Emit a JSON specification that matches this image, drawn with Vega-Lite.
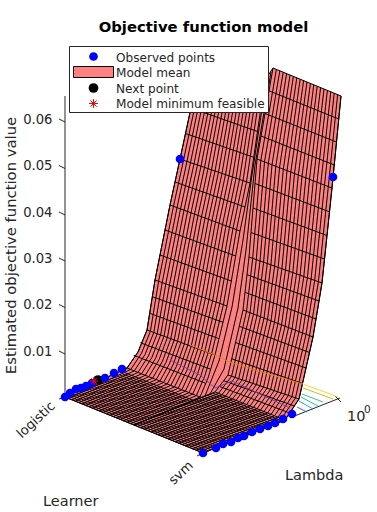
{"$schema":"https://vega.github.io/schema/vega-lite/v6.json","width":377,"height":512,"padding":0,"autosize":{"type":"none"},"background":"white","title":{"text":"Objective function model","frame":"group","anchor":"middle","dx":15,"offset":-35,"font":"DejaVu Sans","fontSize":14.8,"fontWeight":"bold","color":"black"},"config":{"view":{"stroke":null},"text":{"font":"DejaVu Sans"}},
"datasets":{"surface":[{"x":65,"y":397},{"x":127,"y":368},{"x":138,"y":352},{"x":147,"y":330},{"x":155,"y":280},{"x":170,"y":205},{"x":180,"y":159},{"x":202,"y":57},{"x":265,"y":80},{"x":273,"y":68},{"x":341,"y":96},{"x":332,"y":188},{"x":322,"y":283},{"x":313,"y":337},{"x":299,"y":399},{"x":285,"y":420},{"x":203,"y":453},{"x":65,"y":397}],
"mesh":[
{"g":0,"x":65,"y":397},{"g":0,"x":127,"y":368},{"g":0,"x":138,"y":352},{"g":0,"x":147,"y":330},{"g":0,"x":155,"y":280},{"g":0,"x":170,"y":205},{"g":0,"x":180,"y":159},{"g":0,"x":202,"y":57},
{"g":1,"x":68.5,"y":398.4},{"g":1,"x":130.7,"y":369.5},{"g":1,"x":141.5,"y":353.3},{"g":1,"x":150.4,"y":331.3},{"g":1,"x":158.6,"y":281.3},{"g":1,"x":173.5,"y":206.3},{"g":1,"x":183.5,"y":160.2},{"g":1,"x":205.2,"y":58.2},
{"g":2,"x":71.9,"y":399.8},{"g":2,"x":134.3,"y":370.9},{"g":2,"x":145,"y":354.6},{"g":2,"x":153.8,"y":332.5},{"g":2,"x":162.2,"y":282.6},{"g":2,"x":177,"y":207.6},{"g":2,"x":187,"y":161.4},{"g":2,"x":208.3,"y":59.3},
{"g":3,"x":75.4,"y":401.2},{"g":3,"x":138,"y":372.4},{"g":3,"x":148.5,"y":355.9},{"g":3,"x":157.2,"y":333.8},{"g":3,"x":165.8,"y":283.9},{"g":3,"x":180.5,"y":208.9},{"g":3,"x":190.5,"y":162.6},{"g":3,"x":211.5,"y":60.5},
{"g":4,"x":78.8,"y":402.6},{"g":4,"x":141.6,"y":373.8},{"g":4,"x":152,"y":357.2},{"g":4,"x":160.6,"y":335},{"g":4,"x":169.4,"y":285.2},{"g":4,"x":184,"y":210.2},{"g":4,"x":194,"y":163.8},{"g":4,"x":214.6,"y":61.6},
{"g":5,"x":82.3,"y":404},{"g":5,"x":145.3,"y":375.3},{"g":5,"x":155.5,"y":358.5},{"g":5,"x":164,"y":336.3},{"g":5,"x":173,"y":286.5},{"g":5,"x":187.5,"y":211.5},{"g":5,"x":197.5,"y":165},{"g":5,"x":217.8,"y":62.8},
{"g":6,"x":85.7,"y":405.4},{"g":6,"x":148.9,"y":376.7},{"g":6,"x":159,"y":359.8},{"g":6,"x":167.4,"y":337.5},{"g":6,"x":176.6,"y":287.8},{"g":6,"x":191,"y":212.8},{"g":6,"x":201,"y":166.2},{"g":6,"x":220.9,"y":63.9},
{"g":7,"x":89.2,"y":406.8},{"g":7,"x":152.6,"y":378.2},{"g":7,"x":162.5,"y":361.1},{"g":7,"x":170.8,"y":338.8},{"g":7,"x":180.2,"y":289.1},{"g":7,"x":194.5,"y":214.1},{"g":7,"x":204.5,"y":167.4},{"g":7,"x":224.1,"y":65.1},
{"g":8,"x":92.6,"y":408.2},{"g":8,"x":156.2,"y":379.6},{"g":8,"x":166,"y":362.4},{"g":8,"x":174.2,"y":340},{"g":8,"x":183.8,"y":290.4},{"g":8,"x":198,"y":215.4},{"g":8,"x":208,"y":168.6},{"g":8,"x":227.2,"y":66.2},
{"g":9,"x":96.1,"y":409.6},{"g":9,"x":159.9,"y":381.1},{"g":9,"x":169.5,"y":363.7},{"g":9,"x":177.6,"y":341.3},{"g":9,"x":187.4,"y":291.7},{"g":9,"x":201.5,"y":216.7},{"g":9,"x":211.5,"y":169.8},{"g":9,"x":230.4,"y":67.4},
{"g":10,"x":99.5,"y":411},{"g":10,"x":163.5,"y":382.5},{"g":10,"x":173,"y":365},{"g":10,"x":181,"y":342.5},{"g":10,"x":191,"y":293},{"g":10,"x":205,"y":218},{"g":10,"x":215,"y":171},{"g":10,"x":233.5,"y":68.5},
{"g":11,"x":103,"y":412.4},{"g":11,"x":167.2,"y":384},{"g":11,"x":176.5,"y":366.3},{"g":11,"x":184.4,"y":343.8},{"g":11,"x":194.6,"y":294.3},{"g":11,"x":208.5,"y":219.3},{"g":11,"x":218.5,"y":172.2},{"g":11,"x":236.7,"y":69.7},
{"g":12,"x":106.4,"y":413.8},{"g":12,"x":170.8,"y":385.4},{"g":12,"x":180,"y":367.6},{"g":12,"x":187.8,"y":345},{"g":12,"x":198.2,"y":295.6},{"g":12,"x":212,"y":220.6},{"g":12,"x":222,"y":173.4},{"g":12,"x":239.8,"y":70.8},
{"g":13,"x":109.9,"y":415.2},{"g":13,"x":174.5,"y":386.9},{"g":13,"x":183.5,"y":368.9},{"g":13,"x":191.2,"y":346.3},{"g":13,"x":201.8,"y":296.9},{"g":13,"x":215.5,"y":221.9},{"g":13,"x":225.5,"y":174.6},{"g":13,"x":243,"y":72},
{"g":14,"x":113.3,"y":416.6},{"g":14,"x":178.1,"y":388.3},{"g":14,"x":187,"y":370.2},{"g":14,"x":194.6,"y":347.5},{"g":14,"x":205.4,"y":298.2},{"g":14,"x":219,"y":223.2},{"g":14,"x":229,"y":175.8},{"g":14,"x":246.1,"y":73.1},
{"g":15,"x":116.8,"y":418},{"g":15,"x":181.8,"y":389.8},{"g":15,"x":190.5,"y":371.5},{"g":15,"x":198,"y":348.8},{"g":15,"x":209,"y":299.5},{"g":15,"x":222.5,"y":224.5},{"g":15,"x":232.5,"y":177},{"g":15,"x":249.3,"y":74.3},
{"g":16,"x":120.2,"y":419.4},{"g":16,"x":185.4,"y":391.2},{"g":16,"x":194,"y":372.8},{"g":16,"x":201.4,"y":350},{"g":16,"x":212.6,"y":300.8},{"g":16,"x":226,"y":225.8},{"g":16,"x":236,"y":178.2},{"g":16,"x":252.4,"y":75.4},
{"g":17,"x":123.7,"y":420.8},{"g":17,"x":189.1,"y":392.7},{"g":17,"x":197.5,"y":374.1},{"g":17,"x":204.8,"y":351.3},{"g":17,"x":216.2,"y":302.1},{"g":17,"x":229.5,"y":227.1},{"g":17,"x":239.5,"y":179.4},{"g":17,"x":255.6,"y":76.6},
{"g":18,"x":127.1,"y":422.2},{"g":18,"x":192.7,"y":394.1},{"g":18,"x":201,"y":375.4},{"g":18,"x":208.2,"y":352.5},{"g":18,"x":219.8,"y":303.4},{"g":18,"x":233,"y":228.4},{"g":18,"x":243,"y":180.6},{"g":18,"x":258.7,"y":77.7},
{"g":19,"x":130.6,"y":423.6},{"g":19,"x":196.4,"y":395.6},{"g":19,"x":204.5,"y":376.7},{"g":19,"x":211.6,"y":353.8},{"g":19,"x":223.4,"y":304.7},{"g":19,"x":236.5,"y":229.7},{"g":19,"x":246.5,"y":181.8},{"g":19,"x":261.9,"y":78.9},
{"g":20,"x":134,"y":425},{"g":20,"x":200,"y":397},{"g":20,"x":208,"y":378},{"g":20,"x":215,"y":355},{"g":20,"x":227,"y":306},{"g":20,"x":240,"y":231},{"g":20,"x":250,"y":183},{"g":20,"x":265,"y":80},
{"g":21,"x":134,"y":425},{"g":21,"x":205,"y":396},{"g":21,"x":219,"y":361},{"g":21,"x":232,"y":307},{"g":21,"x":243,"y":240},{"g":21,"x":252,"y":175},{"g":21,"x":267,"y":76},
{"g":22,"x":134,"y":425},{"g":22,"x":210,"y":394},{"g":22,"x":224,"y":369},{"g":22,"x":238,"y":308},{"g":22,"x":246,"y":250},{"g":22,"x":255,"y":165},{"g":22,"x":271,"y":72},
{"g":30,"x":134,"y":425},{"g":30,"x":215,"y":392},{"g":30,"x":228,"y":375},{"g":30,"x":243,"y":310},{"g":30,"x":249,"y":257},{"g":30,"x":257,"y":159},{"g":30,"x":273,"y":68},
{"g":31,"x":137.5,"y":426.4},{"g":31,"x":218.5,"y":393.4},{"g":31,"x":231.6,"y":376.2},{"g":31,"x":246.5,"y":311.4},{"g":31,"x":252.7,"y":258.3},{"g":31,"x":260.8,"y":160.5},{"g":31,"x":276.4,"y":69.4},
{"g":32,"x":140.9,"y":427.8},{"g":32,"x":222,"y":394.8},{"g":32,"x":235.1,"y":377.4},{"g":32,"x":250,"y":312.7},{"g":32,"x":256.3,"y":259.6},{"g":32,"x":264.5,"y":161.9},{"g":32,"x":279.8,"y":70.8},
{"g":33,"x":144.4,"y":429.2},{"g":33,"x":225.5,"y":396.2},{"g":33,"x":238.7,"y":378.6},{"g":33,"x":253.5,"y":314.1},{"g":33,"x":260,"y":260.9},{"g":33,"x":268.3,"y":163.4},{"g":33,"x":283.2,"y":72.2},
{"g":34,"x":147.8,"y":430.6},{"g":34,"x":229,"y":397.6},{"g":34,"x":242.2,"y":379.8},{"g":34,"x":257,"y":315.4},{"g":34,"x":263.6,"y":262.2},{"g":34,"x":272,"y":164.8},{"g":34,"x":286.6,"y":73.6},
{"g":35,"x":151.3,"y":432},{"g":35,"x":232.5,"y":399},{"g":35,"x":245.8,"y":381},{"g":35,"x":260.5,"y":316.8},{"g":35,"x":267.3,"y":263.5},{"g":35,"x":275.8,"y":166.3},{"g":35,"x":290,"y":75},
{"g":36,"x":154.7,"y":433.4},{"g":36,"x":236,"y":400.4},{"g":36,"x":249.3,"y":382.2},{"g":36,"x":264,"y":318.1},{"g":36,"x":270.9,"y":264.8},{"g":36,"x":279.5,"y":167.7},{"g":36,"x":293.4,"y":76.4},
{"g":37,"x":158.2,"y":434.8},{"g":37,"x":239.5,"y":401.8},{"g":37,"x":252.9,"y":383.4},{"g":37,"x":267.5,"y":319.5},{"g":37,"x":274.6,"y":266.1},{"g":37,"x":283.3,"y":169.2},{"g":37,"x":296.8,"y":77.8},
{"g":38,"x":161.6,"y":436.2},{"g":38,"x":243,"y":403.2},{"g":38,"x":256.4,"y":384.6},{"g":38,"x":271,"y":320.8},{"g":38,"x":278.2,"y":267.4},{"g":38,"x":287,"y":170.6},{"g":38,"x":300.2,"y":79.2},
{"g":39,"x":165.1,"y":437.6},{"g":39,"x":246.5,"y":404.6},{"g":39,"x":260,"y":385.8},{"g":39,"x":274.5,"y":322.2},{"g":39,"x":281.9,"y":268.7},{"g":39,"x":290.8,"y":172.1},{"g":39,"x":303.6,"y":80.6},
{"g":40,"x":168.5,"y":439},{"g":40,"x":250,"y":406},{"g":40,"x":263.5,"y":387},{"g":40,"x":278,"y":323.5},{"g":40,"x":285.5,"y":270},{"g":40,"x":294.5,"y":173.5},{"g":40,"x":307,"y":82},
{"g":41,"x":172,"y":440.4},{"g":41,"x":253.5,"y":407.4},{"g":41,"x":267.1,"y":388.2},{"g":41,"x":281.5,"y":324.9},{"g":41,"x":289.2,"y":271.3},{"g":41,"x":298.3,"y":175},{"g":41,"x":310.4,"y":83.4},
{"g":42,"x":175.4,"y":441.8},{"g":42,"x":257,"y":408.8},{"g":42,"x":270.6,"y":389.4},{"g":42,"x":285,"y":326.2},{"g":42,"x":292.8,"y":272.6},{"g":42,"x":302,"y":176.4},{"g":42,"x":313.8,"y":84.8},
{"g":43,"x":178.9,"y":443.2},{"g":43,"x":260.5,"y":410.2},{"g":43,"x":274.2,"y":390.6},{"g":43,"x":288.5,"y":327.6},{"g":43,"x":296.5,"y":273.9},{"g":43,"x":305.8,"y":177.9},{"g":43,"x":317.2,"y":86.2},
{"g":44,"x":182.3,"y":444.6},{"g":44,"x":264,"y":411.6},{"g":44,"x":277.7,"y":391.8},{"g":44,"x":292,"y":328.9},{"g":44,"x":300.1,"y":275.2},{"g":44,"x":309.5,"y":179.3},{"g":44,"x":320.6,"y":87.6},
{"g":45,"x":185.8,"y":446},{"g":45,"x":267.5,"y":413},{"g":45,"x":281.3,"y":393},{"g":45,"x":295.5,"y":330.3},{"g":45,"x":303.8,"y":276.5},{"g":45,"x":313.3,"y":180.8},{"g":45,"x":324,"y":89},
{"g":46,"x":189.2,"y":447.4},{"g":46,"x":271,"y":414.4},{"g":46,"x":284.8,"y":394.2},{"g":46,"x":299,"y":331.6},{"g":46,"x":307.4,"y":277.8},{"g":46,"x":317,"y":182.2},{"g":46,"x":327.4,"y":90.4},
{"g":47,"x":192.7,"y":448.8},{"g":47,"x":274.5,"y":415.8},{"g":47,"x":288.4,"y":395.4},{"g":47,"x":302.5,"y":333},{"g":47,"x":311.1,"y":279.1},{"g":47,"x":320.8,"y":183.7},{"g":47,"x":330.8,"y":91.8},
{"g":48,"x":196.1,"y":450.2},{"g":48,"x":278,"y":417.2},{"g":48,"x":291.9,"y":396.6},{"g":48,"x":306,"y":334.3},{"g":48,"x":314.7,"y":280.4},{"g":48,"x":324.5,"y":185.1},{"g":48,"x":334.2,"y":93.2},
{"g":49,"x":199.6,"y":451.6},{"g":49,"x":281.5,"y":418.6},{"g":49,"x":295.5,"y":397.8},{"g":49,"x":309.5,"y":335.7},{"g":49,"x":318.4,"y":281.7},{"g":49,"x":328.3,"y":186.6},{"g":49,"x":337.6,"y":94.6},
{"g":50,"x":203,"y":453},{"g":50,"x":285,"y":420},{"g":50,"x":299,"y":399},{"g":50,"x":313,"y":337},{"g":50,"x":322,"y":283},{"g":50,"x":332,"y":188},{"g":50,"x":341,"y":96},
{"g":60,"x":269,"y":90.8},{"g":60,"x":338.8,"y":119},{"g":61,"x":265,"y":113.5},{"g":61,"x":336.5,"y":142},{"g":62,"x":261,"y":136},{"g":62,"x":334.3,"y":165},{"g":63,"x":257,"y":159},{"g":63,"x":332,"y":188},{"g":64,"x":255,"y":183.5},{"g":64,"x":329.5,"y":211.8},{"g":65,"x":253,"y":208},{"g":65,"x":327,"y":235.5},{"g":66,"x":251,"y":232.5},{"g":66,"x":324.5,"y":259},{"g":67,"x":249,"y":257},{"g":67,"x":322,"y":283},{"g":68,"x":247,"y":274.7},{"g":68,"x":319,"y":301},{"g":69,"x":245,"y":292.3},{"g":69,"x":316,"y":319},{"g":70,"x":243,"y":310},{"g":70,"x":313,"y":337},{"g":71,"x":239.3,"y":326.3},{"g":71,"x":309.5,"y":352.5},{"g":72,"x":235.5,"y":342.5},{"g":72,"x":306,"y":368},{"g":73,"x":231.8,"y":358.8},{"g":73,"x":302.5,"y":383.5},{"g":74,"x":228,"y":375},{"g":74,"x":299,"y":399},{"g":75,"x":223.7,"y":380.7},{"g":75,"x":294.3,"y":406},{"g":76,"x":219.3,"y":386.3},{"g":76,"x":289.7,"y":413},
{"g":80,"x":196.5,"y":82.5},{"g":80,"x":261.3,"y":105.8},{"g":81,"x":191,"y":108},{"g":81,"x":257.5,"y":131.5},{"g":82,"x":185.5,"y":133.5},{"g":82,"x":253.8,"y":157.3},{"g":83,"x":180,"y":159},{"g":83,"x":250,"y":183},{"g":84,"x":175,"y":182},{"g":84,"x":245,"y":207},{"g":85,"x":170,"y":205},{"g":85,"x":240,"y":231},{"g":86,"x":165,"y":230},{"g":86,"x":235.7,"y":256},{"g":87,"x":160,"y":255},{"g":87,"x":231.3,"y":281},{"g":88,"x":155,"y":280},{"g":88,"x":227,"y":306},{"g":89,"x":152.3,"y":296.7},{"g":89,"x":223,"y":322.3},{"g":90,"x":149.7,"y":313.3},{"g":90,"x":219,"y":338.7},{"g":91,"x":147,"y":330},{"g":91,"x":215,"y":355},{"g":92,"x":140.3,"y":342.7},{"g":92,"x":210,"y":369},{"g":93,"x":133.7,"y":355.3},{"g":93,"x":205,"y":383},{"g":94,"x":127,"y":368},{"g":94,"x":200,"y":397},
{"g":100,"x":65,"y":397},{"g":100,"x":203,"y":453},{"g":101,"x":67.7,"y":395.9},{"g":101,"x":205.7,"y":451.9},{"g":102,"x":70.5,"y":394.8},{"g":102,"x":208.5,"y":450.8},{"g":103,"x":73.2,"y":393.7},{"g":103,"x":211.2,"y":449.7},{"g":104,"x":76,"y":392.6},{"g":104,"x":214,"y":448.6},{"g":105,"x":78.7,"y":391.5},{"g":105,"x":216.7,"y":447.5},{"g":106,"x":81.4,"y":390.4},{"g":106,"x":219.4,"y":446.4},{"g":107,"x":84.2,"y":389.3},{"g":107,"x":222.2,"y":445.3},{"g":108,"x":86.9,"y":388.2},{"g":108,"x":224.9,"y":444.2},{"g":109,"x":89.7,"y":387.1},{"g":109,"x":227.7,"y":443.1},{"g":110,"x":92.4,"y":386},{"g":110,"x":230.4,"y":442},{"g":111,"x":95.1,"y":384.9},{"g":111,"x":233.1,"y":440.9},{"g":112,"x":97.9,"y":383.8},{"g":112,"x":235.9,"y":439.8},{"g":113,"x":100.6,"y":382.7},{"g":113,"x":238.6,"y":438.7},{"g":114,"x":103.4,"y":381.6},{"g":114,"x":241.4,"y":437.6},{"g":115,"x":106.1,"y":380.5},{"g":115,"x":244.1,"y":436.5},{"g":116,"x":108.8,"y":379.4},{"g":116,"x":246.8,"y":435.4},{"g":117,"x":111.6,"y":378.3},{"g":117,"x":249.6,"y":434.3},{"g":118,"x":114.3,"y":377.2},{"g":118,"x":252.3,"y":433.2},{"g":119,"x":117.1,"y":376.1},{"g":119,"x":255.1,"y":432.1},{"g":120,"x":119.8,"y":375},{"g":120,"x":257.8,"y":431},{"g":121,"x":122.5,"y":373.9},{"g":121,"x":260.5,"y":429.9},{"g":122,"x":125.3,"y":372.8},{"g":122,"x":263.3,"y":428.8},{"g":123,"x":196,"y":399.7},{"g":123,"x":266,"y":427.7},{"g":124,"x":198.8,"y":398.6},{"g":124,"x":268.8,"y":426.6},{"g":125,"x":201.5,"y":397.5},{"g":125,"x":271.5,"y":425.5},{"g":126,"x":204.2,"y":396.4},{"g":126,"x":274.2,"y":424.4},{"g":127,"x":207,"y":395.3},{"g":127,"x":277,"y":423.3},{"g":128,"x":209.7,"y":394.2},{"g":128,"x":279.7,"y":422.2},{"g":129,"x":212.5,"y":393.1},{"g":129,"x":282.5,"y":421.1},{"g":130,"x":215.2,"y":392},{"g":130,"x":285.2,"y":420}],
"contours":[{"level":1,"x":170,"y":360},{"level":1,"x":200,"y":375},{"level":1,"x":215,"y":388},{"level":1,"x":232,"y":381},{"level":1,"x":290,"y":408},{"level":2,"x":297,"y":407},{"level":2,"x":307,"y":412},{"level":3,"x":299,"y":401},{"level":3,"x":313,"y":409},{"level":4,"x":301,"y":397},{"level":4,"x":318,"y":406},{"level":5,"x":302,"y":394},{"level":5,"x":323,"y":402},{"level":6,"x":303,"y":388},{"level":6,"x":333,"y":399},{"level":7,"x":304,"y":384.5},{"level":7,"x":322,"y":391},{"level":7,"x":338,"y":397},{"level":8,"x":190,"y":345},{"level":8,"x":215,"y":355},{"level":8,"x":232,"y":363},{"level":8,"x":303,"y":384}],
"axes":[{"g":"z","x":65,"y":397},{"g":"z","x":65,"y":96},{"g":"l","x":292,"y":417},{"g":"l","x":340,"y":398},{"g":"t0","x":59,"y":399},{"g":"t0","x":65,"y":397},{"g":"t1","x":59,"y":351},{"g":"t1","x":65,"y":354},{"g":"t2","x":59,"y":304.5},{"g":"t2","x":65,"y":307.5},{"g":"t3","x":59,"y":258},{"g":"t3","x":65,"y":261},{"g":"t4","x":59,"y":212},{"g":"t4","x":65,"y":215},{"g":"t5","x":59,"y":165.5},{"g":"t5","x":65,"y":168.5},{"g":"t6","x":59,"y":119},{"g":"t6","x":65,"y":122},{"g":"t7","x":197,"y":456},{"g":"t7","x":203,"y":453},{"g":"t8","x":335,"y":396},{"g":"t8","x":341,"y":402}],
"points":[{"s":"Observed points","x":65,"y":397},{"s":"Observed points","x":70,"y":393},{"s":"Observed points","x":76,"y":389},{"s":"Observed points","x":81,"y":388},{"s":"Observed points","x":86,"y":386},{"s":"Observed points","x":92,"y":383},{"s":"Observed points","x":105,"y":378},{"s":"Observed points","x":114,"y":373},{"s":"Observed points","x":122,"y":369},{"s":"Observed points","x":203,"y":453},{"s":"Observed points","x":216,"y":448},{"s":"Observed points","x":223,"y":444},{"s":"Observed points","x":231,"y":442},{"s":"Observed points","x":238,"y":438},{"s":"Observed points","x":244,"y":436},{"s":"Observed points","x":252,"y":432},{"s":"Observed points","x":260,"y":429},{"s":"Observed points","x":268,"y":426},{"s":"Observed points","x":275,"y":423},{"s":"Observed points","x":283,"y":419},{"s":"Observed points","x":292,"y":414},{"s":"Observed points","x":180,"y":159},{"s":"Observed points","x":333,"y":177}]},
"encoding":{"x":{"field":"x","type":"quantitative","scale":{"domain":[0,377],"nice":false,"zero":false},"axis":null},"y":{"field":"y","type":"quantitative","scale":{"domain":[512,0],"nice":false,"zero":false},"axis":{"orient":"left","offset":-65,"values":[122,168.5,215,261,307.5,354],"labelExpr":"format((400-datum.value)/4633,'.2f')","domain":false,"ticks":false,"grid":false,"labelPadding":13,"labelOffset":-3,"labelFont":"DejaVu Sans","labelFontSize":13.2,"labelColor":"#262626","title":"Estimated objective function value","titleFont":"DejaVu Sans","titleFontSize":14.8,"titleFontWeight":"normal","titleColor":"#262626","titleX":-47,"titleY":245}}},
"layer":[
{"data":{"name":"axes"},"mark":{"type":"line","stroke":"#262626","strokeWidth":1},"encoding":{"detail":{"field":"g"},"order":{"value":null}}},
{"data":{"name":"surface"},"mark":{"type":"line","fill":"#ff8080","stroke":"black","strokeWidth":1},"encoding":{"order":{"value":null}}},
{"data":{"name":"mesh"},"mark":{"type":"line","stroke":"black","strokeWidth":1},"encoding":{"detail":{"field":"g"},"order":{"value":null}}},
{"data":{"name":"contours"},"mark":{"type":"line","strokeWidth":1},"encoding":{"color":{"field":"level","type":"ordinal","legend":null,"scale":{"domain":[1,2,3,4,5,6,7,8],"range":["#7a3fa0","#3a5ff0","#1f9fe0","#1fbfb5","#40c080","#c8b830","#f8d820","#e8801a"]}},"order":{"value":null}}},
{"data":{"values":[{"x":98,"y":380}]},"mark":{"type":"point","filled":true,"color":"black","size":95,"opacity":1}},
{"data":{"name":"points"},"mark":{"type":"point","filled":true,"opacity":1,"size":75,"color":"#0000ff"}},
{"data":{"values":[{"x":94,"y":381}]},"mark":{"type":"point","shape":"M-1,0L1,0M0,-1L0,1M-.7,-.7L.7,.7M-.7,.7L.7,-.7","filled":false,"color":"#ff0000","size":60,"opacity":1,"strokeWidth":1}},
{"data":{"values":[{"label":"logistic","x":36,"y":420},{"label":"svm","x":181,"y":473}]},"mark":{"type":"text","angle":317,"fontSize":13.2,"color":"#262626","align":"center","baseline":"middle"},"encoding":{"text":{"field":"label"}}},
{"data":{"values":[{"label":"10","x":347,"y":417},{"label":"Lambda","x":285,"y":476},{"label":"Learner","x":43,"y":502}]},"mark":{"type":"text","fontSize":14.5,"color":"#262626","align":"left","baseline":"middle"},"encoding":{"text":{"field":"label"}}},
{"data":{"values":[{"label":"0","x":364,"y":410}]},"mark":{"type":"text","fontSize":10.5,"color":"#262626","align":"left","baseline":"middle"},"encoding":{"text":{"field":"label"}}},
{"data":{"values":[{"x":69.5,"y":46.5,"x2":268.5,"y2":112.5}]},"mark":{"type":"rect","fill":"white","stroke":"#262626","strokeWidth":1},"encoding":{"x2":{"field":"x2"},"y2":{"field":"y2"}}},
{"data":{"values":[{"x":73.5,"y":66.5,"x2":113.5,"y2":77.5}]},"mark":{"type":"rect","fill":"#ff8080","stroke":"black","strokeWidth":1},"encoding":{"x2":{"field":"x2"},"y2":{"field":"y2"}}},
{"data":{"values":[{"x":93.5,"y":56.5}]},"mark":{"type":"point","filled":true,"color":"#0000ff","size":75,"opacity":1}},
{"data":{"values":[{"x":93.5,"y":88}]},"mark":{"type":"point","filled":true,"color":"black","size":95,"opacity":1}},
{"data":{"values":[{"x":93.5,"y":103.5}]},"mark":{"type":"point","shape":"M-1,0L1,0M0,-1L0,1M-.7,-.7L.7,.7M-.7,.7L.7,-.7","filled":false,"color":"#ff0000","size":80,"opacity":1,"strokeWidth":1}},
{"data":{"values":[{"label":"Observed points","x":116,"y":58},{"label":"Model mean","x":116,"y":73},{"label":"Next point","x":116,"y":89},{"label":"Model minimum feasible","x":116,"y":104}]},"mark":{"type":"text","fontSize":12.1,"color":"#262626","align":"left","baseline":"middle"},"encoding":{"text":{"field":"label"}}}
]}
